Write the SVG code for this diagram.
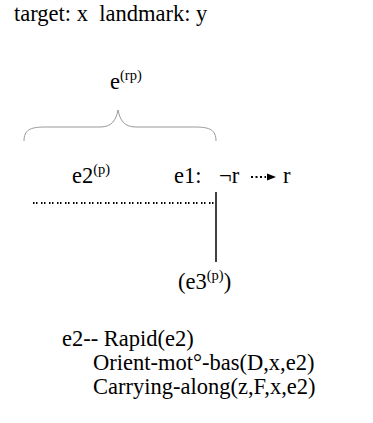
<svg xmlns="http://www.w3.org/2000/svg" width="373" height="423" viewBox="0 0 373 423">
<style>
text{font-family:"Liberation Serif","Times New Roman",serif;font-size:22.5px;fill:#000}
.sup{font-size:14.5px}
.brace{fill:none;stroke:#999;stroke-width:1}
.solid{stroke:#000;stroke-width:1.5;fill:none}
.dots{stroke:#000;stroke-width:2;fill:none;stroke-dasharray:1.5 1.5 1.5 3.5}
</style>
<rect width="373" height="423" fill="#fff"/>
<g id="header"><text x="14" y="21" xml:space="preserve">target: x  landmark: y</text></g>
<g id="e-rp"><text x="110" y="89">e<tspan class="sup" dy="-9">(rp)</tspan></text></g>
<g id="brace"><path class="brace" d="M24,141 C24,130 30,127 45,127 L100,127 C112,127 116,120 118,110 C120,120 124,127 136,127 L195,127 C210,127 216,130 216,141"/></g>
<g id="e2"><text x="72" y="183">e2<tspan class="sup" dy="-9">(p)</tspan></text></g>
<g id="e1"><text x="174" y="183">e1:</text><text x="219" y="183">¬r</text><text x="283" y="183">r</text></g>
<g id="e3"><text x="178" y="289">(e3<tspan class="sup" dy="-9">(p)</tspan><tspan dy="9">)</tspan></text></g>
<g id="connectors">
<line class="dots" x1="33" y1="203" x2="216" y2="203"/>
<line class="solid" x1="216" y1="192" x2="216" y2="262"/>
<line stroke="#000" stroke-width="2" stroke-dasharray="2 2.5" x1="251" y1="177" x2="266" y2="177"/>
<polygon points="267,173.5 276,177 267,180.5" fill="#000"/>
</g>
<g id="rules">
<text x="62" y="346">e2-- Rapid(e2)</text>
<text x="93" y="370">Orient-mot°-bas(D,x,e2)</text>
<text x="93" y="394">Carrying-along(z,F,x,e2)</text>
</g>
</svg>
